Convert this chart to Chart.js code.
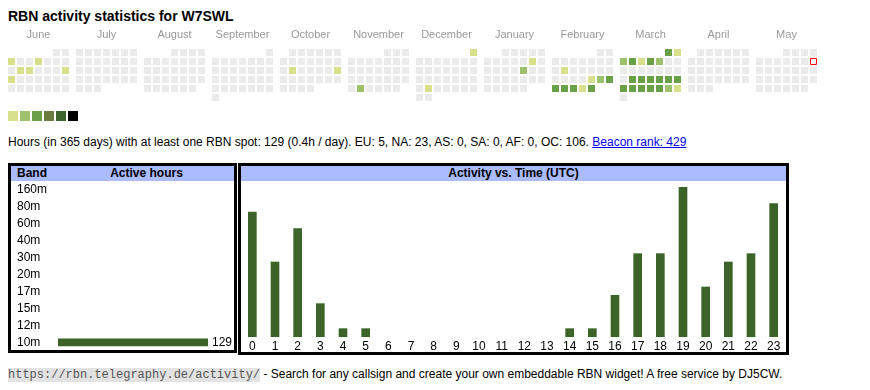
<!DOCTYPE html>
<html>
<head>
<meta charset="utf-8">
<title>RBN activity statistics for W7SWL</title>
<script src="https://cdn.jsdelivr.net/npm/chart.js@4.4.1/dist/chart.umd.min.js"></script>
<style>
  body { margin: 0; background: #fff; font-family: "Liberation Sans", Arial, sans-serif; color: #000; }
  #page { position: relative; width: 870px; height: 390px; overflow: hidden; }
  .abs { position: absolute; }
  h1 { position: absolute; left: 8px; top: 8px; margin: 0; font-size: 14px; line-height: 16px; font-weight: bold; }
  #legend { left: 8px; top: 111px; height: 10px; font-size: 0; }
  #legend span { display: inline-block; width: 10px; height: 10px; margin-right: 2px; }
  #summary { left: 8px; top: 135px; font-size: 12px; line-height: 14px; white-space: nowrap; }
  #summary a { color: #0000ee; text-decoration: underline; }
  .box { position: absolute; border: 3px solid #000; box-sizing: border-box; }
  .head { position: relative; height: 15px; background: #aabbff; font-weight: bold; font-size: 12px; line-height: 15px; }
  #footer { left: 8px; top: 367px; font-size: 12px; line-height: 14px; white-space: nowrap; }
  #footer code { font-family: "Liberation Mono", monospace; font-size: 12px; background: #e2e2e2; color: #555; }
  canvas { position: absolute; }
</style>
</head>
<body>
<div id="page">
  <h1>RBN activity statistics for W7SWL</h1>
  <canvas id="calendar" width="830" height="110" style="left:0;top:0"></canvas>
  <div id="legend" class="abs"></div>
  <div id="summary" class="abs">Hours (in 365 days) with at least one RBN spot: 129 (0.4h / day). EU: 5, NA: 23, AS: 0, SA: 0, AF: 0, OC: 106. <a href="#">Beacon rank: 429</a></div>

  <div class="box" style="left:8px;top:163px;width:229px;height:190px">
    <div class="head"><span style="position:absolute;left:6px">Band</span><span style="position:absolute;left:98px;width:75px;text-align:center">Active hours</span></div>
  </div>
  <div class="box" style="left:238px;top:163px;width:551px;height:192px">
    <div class="head" style="text-align:center">Activity vs. Time (UTC)</div>
  </div>
  <canvas id="bandChart" width="223" height="184" style="left:11px;top:174px"></canvas>
  <canvas id="hourChart" width="545" height="171" style="left:241px;top:181px"></canvas>

  <div id="footer" class="abs"><code>https://rbn.telegraphy.de/activity/</code> - Search for any callsign and create your own embeddable RBN widget! A free service by DJ5CW.</div>
</div>

<script>
// Calendar data (June 2024 - May 2025)
const months = ['June', 'July', 'August', 'September', 'October', 'November',
    'December', 'January', 'February', 'March', 'April', 'May'];
const activeDays = [
    '2024-06-03', '2024-06-06', '2024-06-11', '2024-06-12', '2024-06-16', '2024-06-17',
    '2024-10-15', '2024-10-20', '2024-11-26', '2024-12-01', '2024-12-24',
    '2025-01-11', '2025-01-17',
    '2025-02-11', '2025-02-21', '2025-02-22', '2025-02-23', '2025-02-24', '2025-02-25',
    '2025-02-26', '2025-02-27', '2025-02-28',
    '2025-03-01', '2025-03-02', '2025-03-03', '2025-03-04', '2025-03-05', '2025-03-06',
    '2025-03-07', '2025-03-18', '2025-03-19', '2025-03-20', '2025-03-21', '2025-03-22',
    '2025-03-23', '2025-03-24', '2025-03-25', '2025-03-26', '2025-03-27', '2025-03-28',
    '2025-03-29', '2025-03-30'
];
const activeLevels = [
    1, 1, 1, 1, 1, 1,
    1, 1, 2, 1, 1,
    1, 2,
    1, 1, 2, 3, 3, 3,
    3, 1, 3,
    3, 1, 2, 3, 1, 3,
    2, 3, 3, 3, 3, 3,
    3, 3, 3, 3, 3, 3,
    2, 1
];
const today = '2025-05-11';

// Band table
const bands = ['160m', '80m', '60m', '40m', '30m', '20m', '17m', '15m', '12m', '10m'];
const bandHours = [0, 0, 0, 0, 0, 0, 0, 0, 0, 129];

// Activity vs. time (UTC)
const hours = ['0', '1', '2', '3', '4', '5', '6', '7', '8', '9', '10', '11',
    '12', '13', '14', '15', '16', '17', '18', '19', '20', '21', '22', '23'];
const hourCounts = [15, 9, 13, 4, 1, 1, 0, 0, 0, 0, 0, 0, 0, 0, 1, 1, 5, 10, 10, 18, 6, 9, 10, 16];

const levelColors = ['#ebebeb', '#d9e08b', '#9dc16c', '#6aa048', '#6a7d3d', '#3e6529', '#000000'];
const barColor = '#3c6428';
const MONTH_SPAN = 68 / 9; // columns per month block, gap included

// legend squares
const legend = document.getElementById('legend');
levelColors.slice(1).forEach(c => {
    const s = document.createElement('span');
    s.style.background = c;
    legend.appendChild(s);
});

// place a date in the month grid: x = weekday (Mon first), y = week of month
function cellOf(iso) {
    const [y, m, d] = iso.split('-').map(Number);
    const first = (new Date(Date.UTC(y, m - 1, 1)).getUTCDay() + 6) % 7;
    const wd = (new Date(Date.UTC(y, m - 1, d)).getUTCDay() + 6) % 7;
    const monthIdx = (y - 2024) * 12 + (m - 1) - 5;
    return { x: monthIdx * MONTH_SPAN + wd, y: Math.floor((d - 1 + first) / 7) };
}

const dayPoints = [];
const dayColors = [];
for (let t = Date.UTC(2024, 5, 1); t <= Date.UTC(2025, 4, 31); t += 86400000) {
    const iso = new Date(t).toISOString().slice(0, 10);
    if (iso === today) continue;
    const i = activeDays.indexOf(iso);
    dayPoints.push(cellOf(iso));
    dayColors.push(levelColors[i >= 0 ? activeLevels[i] : 0]);
}

new Chart(document.getElementById('calendar'), {
    type: 'scatter',
    data: {
        datasets: [{
            data: [cellOf(today)],
            pointStyle: 'rect',
            pointRadius: 4.243,
            pointBackgroundColor: '#fff',
            pointBorderColor: '#ff0000',
            pointBorderWidth: 1
        }, {
            data: dayPoints,
            pointStyle: 'rect',
            pointRadius: 4.95,
            pointBackgroundColor: dayColors,
            pointBorderWidth: 0
        }]
    },
    options: {
        responsive: false,
        animation: false,
        events: [],
        layout: { padding: { left: 7, right: 12, top: 28, bottom: 8 } },
        plugins: { legend: { display: false }, tooltip: { enabled: false } },
        scales: {
            x: {
                type: 'linear',
                position: 'top',
                bounds: 'data',
                min: -0.5,
                max: 11 * MONTH_SPAN + 6.5,
                grid: { display: false, drawTicks: false },
                border: { display: false },
                afterFit: s => { s.height = 20; },
                afterBuildTicks: s => {
                    s.ticks = months.map((m, i) => ({ value: i * MONTH_SPAN + 3 }));
                },
                ticks: {
                    autoSkip: false,
                    maxRotation: 0,
                    padding: 6,
                    color: '#999',
                    font: { family: 'Liberation Sans', size: 11 },
                    callback: (v, i) => months[i]
                }
            },
            y: { display: false, min: -0.5, max: 5.5, reverse: true }
        }
    }
});

// value label at the end of the band bars
const valueLabels = {
    id: 'valueLabels',
    afterDatasetsDraw(chart) {
        const ctx = chart.ctx;
        const meta = chart.getDatasetMeta(0);
        ctx.save();
        ctx.font = '12px "Liberation Sans", Arial';
        ctx.fillStyle = '#000';
        ctx.textBaseline = 'middle';
        meta.data.forEach((bar, i) => {
            if (!bandHours[i]) return;
            ctx.fillText(bandHours[i], bar.x + 4, bar.y);
        });
        ctx.restore();
    }
};

// zero values get no visible bar
const barFill = c => (c.raw ? barColor : 'rgba(0,0,0,0)');

new Chart(document.getElementById('bandChart'), {
    type: 'bar',
    data: {
        labels: bands,
        datasets: [{ data: bandHours, backgroundColor: barFill, barThickness: 7 }]
    },
    options: {
        indexAxis: 'y',
        responsive: false,
        animation: false,
        events: [],
        layout: { padding: { left: 6, right: 26, top: 0, bottom: 0 } },
        plugins: { legend: { display: false }, tooltip: { enabled: false } },
        scales: {
            x: { display: false, min: 0, max: 129 },
            y: {
                grid: { display: false, drawTicks: false },
                border: { display: false },
                afterFit: s => { s.width = 41; },
                ticks: {
                    autoSkip: false,
                    crossAlign: 'far',
                    padding: 0,
                    color: '#000',
                    font: { family: 'Liberation Sans', size: 12 }
                }
            }
        }
    },
    plugins: [valueLabels]
});

new Chart(document.getElementById('hourChart'), {
    type: 'bar',
    data: {
        labels: hours,
        datasets: [{ data: hourCounts, backgroundColor: barFill, barThickness: 8 }]
    },
    options: {
        responsive: false,
        animation: false,
        events: [],
        layout: { padding: { left: 0, right: 1, top: 6, bottom: 0 } },
        plugins: { legend: { display: false }, tooltip: { enabled: false } },
        scales: {
            x: {
                grid: { display: false, drawTicks: false },
                border: { display: false },
                afterFit: s => { s.height = 15; },
                ticks: {
                    padding: 2,
                    maxRotation: 0,
                    autoSkip: false,
                    color: '#000',
                    font: { family: 'Liberation Sans', size: 12 }
                }
            },
            y: { display: false, min: 0, max: 18 }
        }
    }
});
</script>
</body>
</html>
